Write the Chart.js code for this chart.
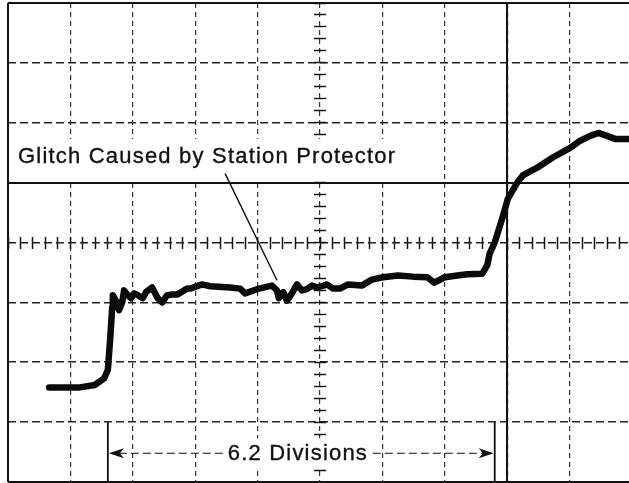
<!DOCTYPE html>
<html>
<head>
<meta charset="utf-8">
<script src="https://cdn.jsdelivr.net/npm/chart.js@4.4.0/dist/chart.umd.min.js"></script>
<style>
  html, body { margin: 0; padding: 0; background: #fff; overflow: hidden; }
  #wrap { position: absolute; left: 0; top: 0; width: 640px; height: 483px; }
</style>
</head>
<body>
<div id="wrap"><canvas id="scope" width="640" height="483"></canvas></div>
<script>
// Graticule: 10 divisions across, 8 divisions high (centre line = 0)
const xRange = [0, 10];
const yRange = [-4, 4];
// Graticule lines that are ruled solid rather than dashed
const solidX = [0, 8];
const solidY = [4, 1, -4];

// Trace samples: x in divisions from the left edge, y in divisions from the centre line
const traceX = [0.66, 1.15, 1.39, 1.54, 1.60, 1.64, 1.67, 1.68, 1.73, 1.78, 1.83, 1.86, 1.92, 1.97, 2.02, 2.08,
  2.16, 2.21, 2.31, 2.36, 2.40, 2.47, 2.55, 2.63, 2.71, 2.79, 2.87, 2.92, 3.11, 3.24, 3.56, 3.72, 3.80, 3.99,
  4.23, 4.31, 4.34, 4.41, 4.47, 4.55, 4.63, 4.71, 4.79, 4.87, 4.95, 5.03, 5.11, 5.21, 5.32, 5.45, 5.67, 5.83,
  6.01, 6.25, 6.49, 6.72, 6.83, 7.00, 7.20, 7.36, 7.60, 7.68, 7.72, 7.80, 7.92, 8.01, 8.16, 8.25, 8.48, 8.73,
  9.01, 9.17, 9.33, 9.46, 9.60, 9.73, 9.95, 10.0];
const traceY = [-2.42, -2.42, -2.38, -2.27, -2.13, -1.58, -1.08, -0.88, -0.97, -1.13, -1.00, -0.80, -0.88, -0.93, -0.85, -0.88,
  -0.93, -0.83, -0.75, -0.85, -0.93, -1.00, -0.88, -0.87, -0.87, -0.82, -0.77, -0.77, -0.70, -0.73, -0.75, -0.77, -0.85, -0.78,
  -0.72, -0.80, -0.93, -0.83, -0.97, -0.85, -0.70, -0.80, -0.78, -0.72, -0.75, -0.73, -0.70, -0.77, -0.77, -0.70, -0.72, -0.62,
  -0.58, -0.55, -0.57, -0.58, -0.67, -0.58, -0.55, -0.53, -0.52, -0.38, -0.18, 0.00, 0.40, 0.73, 1.00, 1.12, 1.25, 1.42,
  1.58, 1.70, 1.78, 1.83, 1.78, 1.73, 1.73, 1.73];

// Annotations
const glitchLabel = 'Glitch Caused by Station Protector';
const spanLabel = '6.2 Divisions';
const spanStart = 1.6;
const spanDivisions = 6.2;

const FONT = '22px "Liberation Sans", Arial, Helvetica, sans-serif';
const TRACK = 1.2;

function spacedWidth(ctx, text) {
  let w = 0;
  for (const ch of text) w += ctx.measureText(ch).width + TRACK;
  return w - TRACK;
}
function spacedText(ctx, text, x, y) {
  for (const ch of text) {
    ctx.fillText(ch, x, y);
    ctx.strokeText(ch, x, y);
    x += ctx.measureText(ch).width + TRACK;
  }
}

const scopeNotes = {
  id: 'scopeNotes',
  afterDraw(chart) {
    const { ctx } = chart;
    const xs = chart.scales.x, ys = chart.scales.y;
    const px = v => xs.getPixelForValue(v);
    const py = v => ys.getPixelForValue(v);
    ctx.save();
    ctx.font = FONT;
    ctx.textBaseline = 'alphabetic';

    // caption panel and text
    const gx = px(0.16);
    const gw = spacedWidth(ctx, glitchLabel);
    ctx.fillStyle = '#fff';
    ctx.fillRect(gx - 6, py(1.73), gw + 12, py(1.04) - py(1.73));
    ctx.fillStyle = '#111';
    ctx.strokeStyle = '#111';
    ctx.lineWidth = 0.35;
    spacedText(ctx, glitchLabel, gx, py(1.333));

    // leader from caption to the glitch
    ctx.lineWidth = 1.4;
    ctx.beginPath();
    ctx.moveTo(px(3.48), py(1.15));
    ctx.lineTo(px(4.31), py(-0.63));
    ctx.stroke();

    // dimension marker for the 6.2 division span
    const x0 = px(spanStart), x1 = px(spanStart + spanDivisions);
    const top = py(-3), bot = py(-4), mid = py(-3.52);
    const sw = spacedWidth(ctx, spanLabel);
    const sx = px(spanStart + spanDivisions / 2) - sw / 2 - 4;
    ctx.fillStyle = '#fff';
    ctx.fillRect(sx - 6, py(-3.27), sw + 12, py(-3.77) - py(-3.27));
    ctx.fillStyle = '#111';
    ctx.lineWidth = 0.35;
    spacedText(ctx, spanLabel, sx, py(-3.633));

    ctx.lineWidth = 1.8;
    ctx.beginPath();
    ctx.moveTo(x0, top); ctx.lineTo(x0, bot + 2);
    ctx.moveTo(x1, top); ctx.lineTo(x1, bot + 2);
    ctx.stroke();

    ctx.lineWidth = 1.2;
    ctx.setLineDash([8, 4]);
    ctx.beginPath();
    ctx.moveTo(x0 + 11, mid); ctx.lineTo(sx - 5, mid);
    ctx.moveTo(sx + sw + 6, mid); ctx.lineTo(x1 - 11, mid);
    ctx.stroke();
    ctx.setLineDash([]);

    const head = (tip, dir) => {
      ctx.beginPath();
      ctx.moveTo(tip, mid);
      ctx.lineTo(tip + dir * 15, mid - 5);
      ctx.lineTo(tip + dir * 11, mid);
      ctx.lineTo(tip + dir * 15, mid + 5);
      ctx.closePath();
      ctx.fill();
    };
    head(x0 + 1, 1);
    head(x1 - 1, -1);
    ctx.restore();
  }
};

const hidden = { display: false };
const minorAxis = (axis, pos, len) => ({
  type: 'linear',
  axis: axis,
  min: axis === 'x' ? xRange[0] : yRange[0],
  max: axis === 'x' ? xRange[1] : yRange[1],
  position: pos,
  ticks: { display: false, stepSize: 0.2, autoSkip: false },
  grid: { drawOnChartArea: false, drawTicks: true, tickLength: len, tickColor: '#151515', tickWidth: 1.5 },
  border: hidden
});

new Chart(document.getElementById('scope'), {
  type: 'scatter',
  data: {
    datasets: [{
      data: traceX.map((x, i) => ({ x: x, y: traceY[i] })),
      showLine: true,
      borderColor: '#0b0b0b',
      borderWidth: 6.5,
      pointRadius: 0,
      pointHoverRadius: 0,
      tension: 0,
      borderJoinStyle: 'round',
      borderCapStyle: 'round',
      xAxisID: 'x',
      yAxisID: 'y'
    }]
  },
  options: {
    responsive: false,
    animation: false,
    devicePixelRatio: 1,
    layout: { padding: { left: 8, right: 8, top: 3, bottom: 1 } },
    plugins: { legend: hidden, tooltip: { enabled: false } },
    events: [],
    scales: {
      x: {
        type: 'linear', min: xRange[0], max: xRange[1], position: 'bottom',
        ticks: { display: false, stepSize: 1, autoSkip: false },
        grid: { drawTicks: false, color: '#333', lineWidth: 1.2 },
        border: { display: false, dash: [5, 4] }
      },
      y: {
        type: 'linear', min: yRange[0], max: yRange[1], position: 'left',
        ticks: { display: false, stepSize: 1, autoSkip: false },
        grid: { drawTicks: false, color: '#222', lineWidth: 1.6 },
        border: { display: false, dash: [8, 4] }
      },
      xSolid: {
        type: 'linear', axis: 'x', min: xRange[0], max: xRange[1], position: 'bottom',
        ticks: { display: false },
        afterBuildTicks: s => { s.ticks = solidX.map(v => ({ value: v })); },
        grid: { drawTicks: false, color: '#111', lineWidth: 2 },
        border: hidden
      },
      ySolid: {
        type: 'linear', axis: 'y', min: yRange[0], max: yRange[1], position: 'left',
        ticks: { display: false },
        afterBuildTicks: s => { s.ticks = solidY.map(v => ({ value: v })); },
        grid: { drawTicks: false, color: '#111', lineWidth: 2 },
        border: hidden
      },
      xMinorA: minorAxis('x', { y: 0 }, 6),
      xMinorB: minorAxis('x', { y: 0 }, -6),
      yMinorA: minorAxis('y', { x: 5 }, 6),
      yMinorB: minorAxis('y', { x: 5 }, -6)
    }
  },
  plugins: [scopeNotes]
});
</script>
</body>
</html>
